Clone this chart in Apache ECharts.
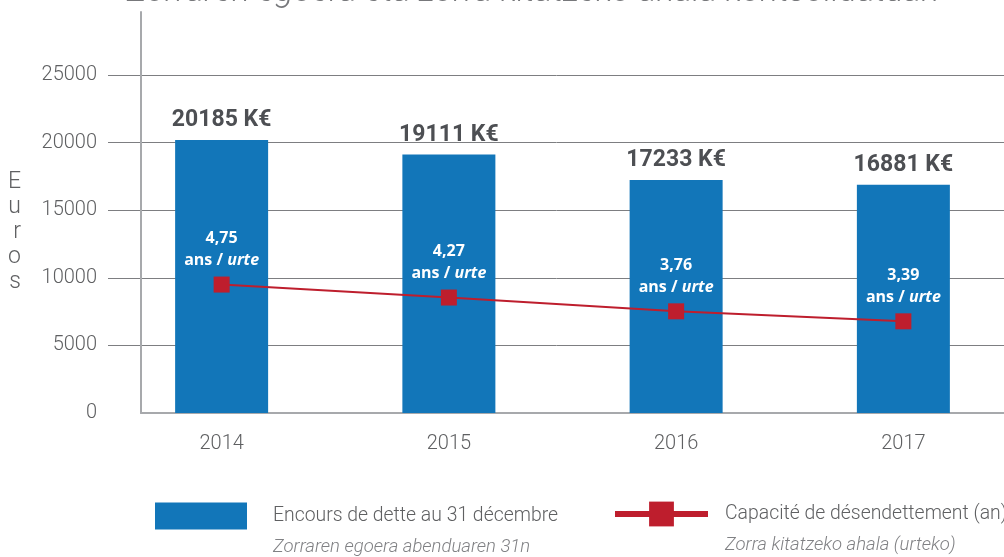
<!DOCTYPE html>
<html>
<head>
<meta charset="utf-8">
<script src="https://cdn.jsdelivr.net/npm/echarts@6/dist/echarts.min.js"></script>
<style>
  html, body { margin: 0; padding: 0; background: #fff; }
  #chart { width: 1004px; height: 557px; }
</style>
</head>
<body>
<div id="chart"></div>
<script>
// chart data
const years = ['2014', '2015', '2016', '2017'];
const debt = [20185, 19111, 17233, 16881];          // K€
const capacity = [4.75, 4.27, 3.76, 3.39];          // years
const yTicks = [0, 5000, 10000, 15000, 20000, 25000];

const debtName = 'Encours de dette au 31 décembre';
const debtSub = 'Zorraren egoera abenduaren 31n';
const capName = 'Capacité de désendettement (an)';
const capSub = 'Zorra kitatzeko ahala (urteko)';

const font = 'Roboto, "Liberation Sans", sans-serif';
const blue = '#1276b9';
const red = '#be1e2d';
const grey = '#5f6062';

function legendText(sub) {
    return function (name) {
        return '{s| }\n{a|' + name + '}\n{b|' + sub + '}';
    };
}

function legendRich(pad) {
    return {
        s: {fontSize: 10, lineHeight: 31},
        a: {fontFamily: font, fontWeight: 300, fontSize: 19.4, lineHeight: 31, color: grey, padding: [0, 0, 0, pad]},
        b: {fontFamily: font, fontWeight: 300, fontSize: 18.5, lineHeight: 31, color: '#808184', fontStyle: 'italic', padding: [0, 0, 0, pad]},
    };
}

function getOption() {
    const option = {
        animation: false,
        title: {
            text: 'Zorraren egoera eta zorra kitatzeko ahala kontsolidatuan',
            left: 122,
            top: -30,
            textStyle: {
                fontFamily: font,
                fontSize: 34,
                fontStyle: 'italic',
                fontWeight: 300,
                color: '#77787b',
            },
        },
        legend: [
            {
                data: [debtName],
                left: 155,
                top: 480,
                padding: 0,
                selectedMode: false,
                itemWidth: 92,
                itemHeight: 27,
                icon: 'rect',
                formatter: legendText(debtSub),
                textStyle: {rich: legendRich(21)},
            },
            {
                data: [capName],
                left: 612,
                top: 478,
                padding: 0,
                selectedMode: false,
                itemWidth: 93,
                itemHeight: 31,
                lineStyle: {width: 6},
                formatter: legendText(capSub),
                textStyle: {rich: legendRich(12)},
            },
        ],
        grid: [
            {left: 108, width: 909, top: 12, bottom: 144, outerBoundsMode: 'none'},
            {left: 141, width: 876, top: 12, bottom: 144, outerBoundsMode: 'none'},
        ],
        xAxis: [
            {
                type: 'category',
                data: years,
                gridIndex: 0,
                axisLine: {show: false},
                axisTick: {show: false},
                axisLabel: {fontFamily: font, fontWeight: 300, fontSize: 20, color: grey, margin: 21},
            },
            {
                type: 'value',
                gridIndex: 1,
                min: 0,
                max: 1,
                axisLine: {show: true, onZero: false, lineStyle: {color: '#a7a9ac', width: 2}},
                axisTick: {show: false},
                axisLabel: {show: false},
                splitLine: {show: false},
            },
        ],
        yAxis: [
            {
                type: 'value',
                gridIndex: 0,
                min: yTicks[0],
                max: 29660,
                interval: yTicks[1] - yTicks[0],
                name: '{p| }\nE\nu\nr\no\ns',
                nameLocation: 'middle',
                nameRotate: 0,
                nameGap: 87,
                nameTextStyle: {
                    fontFamily: font,
                    fontWeight: 300,
                    fontSize: 23,
                    lineHeight: 25,
                    color: grey,
                    rich: {p: {fontSize: 10, lineHeight: 40}},
                },
                axisLine: {show: false},
                axisTick: {show: false},
                axisLabel: {
                    fontFamily: font,
                    fontWeight: 300,
                    fontSize: 20,
                    color: grey,
                    margin: 11,
                    showMaxLabel: false,
                    formatter: (v) => String(v),
                },
                splitLine: {
                    show: true,
                    showMinLine: false,
                    showMaxLine: false,
                    lineStyle: {color: '#7d7e81', width: 1},
                },
            },
            {
                type: 'value',
                gridIndex: 0,
                min: 0,
                max: 14.83,
                show: false,
            },
            {
                type: 'value',
                gridIndex: 1,
                min: 0,
                max: 1,
                axisLine: {show: true, onZero: false, lineStyle: {color: '#a7a9ac', width: 2}},
                axisTick: {show: false},
                axisLabel: {show: false},
                splitLine: {show: false},
            },
        ],
        series: [
            {
                name: debtName,
                type: 'bar',
                data: debt,
                xAxisIndex: 0,
                yAxisIndex: 0,
                barWidth: 93,
                itemStyle: {color: blue},
                label: {
                    show: true,
                    position: 'top',
                    distance: 8,
                    formatter: (p) => p.value + ' K€',
                    fontFamily: font,
                    fontSize: 23,
                    fontWeight: 'bold',
                    color: '#4d4f53',
                },
            },
            {
                name: capName,
                type: 'line',
                data: capacity,
                xAxisIndex: 0,
                yAxisIndex: 1,
                symbol: 'rect',
                symbolSize: 16,
                itemStyle: {color: red},
                lineStyle: {color: red, width: 2},
                label: {
                    show: true,
                    position: 'top',
                    distance: 5,
                    formatter: (p) => '{v|' + p.value.toFixed(2).replace('.', ',') + '}\n{a|ans / }{u|urte}',
                    rich: {
                        v: {fontFamily: '"Open Sans", sans-serif', fontSize: 16, fontWeight: 'bold', color: '#fff', lineHeight: 22},
                        a: {fontFamily: '"Open Sans", sans-serif', fontSize: 16, fontWeight: 'bold', color: '#fff', lineHeight: 22},
                        u: {fontFamily: '"Open Sans", sans-serif', fontSize: 16, fontWeight: 'bold', fontStyle: 'italic', color: '#fff', lineHeight: 22},
                    },
                },
            },
        ],
    };
    return option;
}

const chart = echarts.init(document.getElementById('chart'));
chart.setOption(getOption());
</script>
</body>
</html>
